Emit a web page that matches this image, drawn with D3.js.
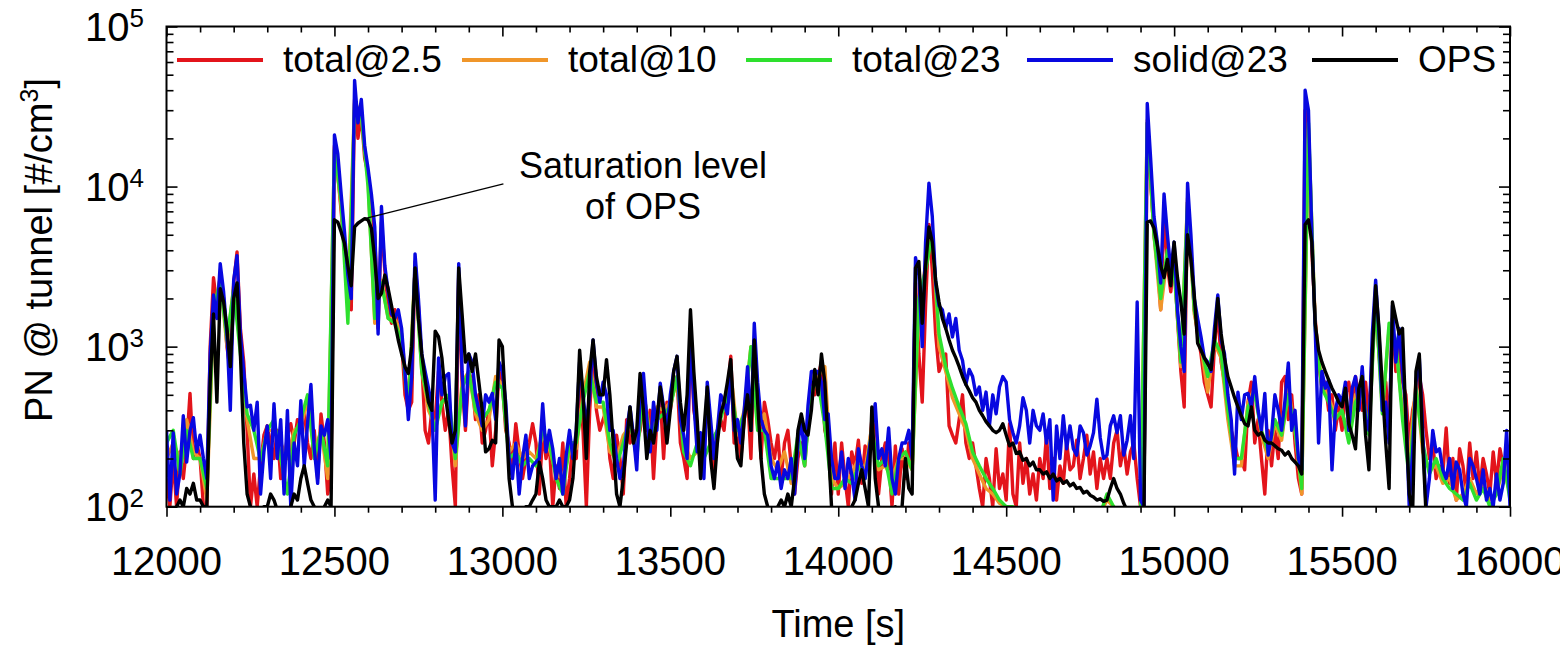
<!DOCTYPE html>
<html>
<head>
<meta charset="utf-8">
<script src="https://cdn.jsdelivr.net/npm/d3@7"></script>
<style>
  body { margin: 0; background: #fff; }
  svg text { font-family: Arial, "Liberation Sans", sans-serif; fill: #000; }
</style>
</head>
<body>
<div id="chart"></div>
<script>
// time grid: red / blue / black sampled every 10 s, orange / green every 20 s
const tStart = 12000;
const stepFine = 10;
const stepCoarse = 20;

const total25 = [
  150, 100, 200, 100, 220, 150, 240, 510, 200, 250,
  200, 100, 100, 1000, 2700, 1800, 2800, 2000, 1000, 700,
  2500, 3900, 1300, 800, 300, 100, 160, 100, 180, 280,
  320, 250, 200, 300, 150, 180, 280, 330, 250, 350,
  300, 400, 250, 200, 300, 150, 380, 250, 120, 160,
  18000, 12000, 7000, 4000, 2500, 1700, 35000, 20000, 28000, 15000,
  12000, 8000, 5000, 1300, 6000, 3000, 1800, 1400, 1700, 1300,
  1100, 500, 400, 450, 3400, 1800, 800, 300, 250, 400,
  350, 700, 450, 300, 400, 180, 100, 2800, 600, 300,
  700, 600, 350, 500, 250, 300, 400, 180, 300, 700,
  600, 300, 250, 180, 330, 220, 150, 200, 250, 330,
  250, 120, 300, 200, 250, 100, 180, 130, 250, 100,
  150, 250, 200, 700, 300, 100, 400, 900, 400, 300,
  350, 400, 200, 150, 280, 200, 120, 350, 250, 300,
  250, 300, 450, 300, 400, 150, 350, 500, 200, 450,
  400, 550, 650, 250, 200, 150, 1300, 400, 300, 180,
  250, 400, 300, 150, 280, 350, 300, 500, 870, 250,
  300, 200, 350, 500, 200, 1000, 500, 200, 450, 350,
  250, 200, 280, 150, 250, 300, 180, 120, 200, 250,
  180, 350, 600, 500, 650, 800, 300, 250, 120, 250,
  120, 250, 150, 100, 220, 180, 260, 140, 240, 190,
  350, 300, 120, 200, 250, 200, 100, 240, 120, 230,
  150, 250, 180, 2500, 900, 450, 1800, 5800, 3000, 1200,
  700, 800, 900, 320, 280, 250, 350, 500, 250, 200,
  250, 180, 130, 100, 200, 150, 100, 230, 130, 160,
  110, 330, 120, 100, 250, 140, 200, 120, 160, 110,
  200, 150, 280, 130, 200, 110, 180, 140, 250, 170,
  180, 260, 150, 200, 280, 160, 220, 130, 200, 150,
  200, 150, 250, 300, 180, 240, 160, 220, 250, 150,
  100, 100, 25000, 11000, 5000, 3500, 1700, 7000, 3200, 2200,
  3500, 1500, 700, 420, 8000, 4000, 1700, 1200, 900, 600,
  500, 420, 1000, 1700, 800, 600, 400, 300, 250, 200,
  200, 170, 450, 600, 250, 350, 200, 120, 300, 180,
  300, 200, 600, 650, 350, 500, 250, 150, 120, 30000,
  20000, 4000, 1500, 800, 550, 600, 400, 500, 300, 420,
  300, 500, 600, 400, 650, 500, 400, 600, 350, 900,
  2000, 900, 550, 600, 300, 1500, 700, 1000, 600, 500,
  250, 400, 500, 650, 500, 300, 200, 250, 150, 180,
  160, 310, 140, 200, 110, 230, 180, 120, 250, 150,
  220, 130, 200, 160, 120, 220, 140, 230, 180, 210,
  150
];

const total10 = [
  200, 250, 200, 350, 220,
  200, 110, 1500, 2700, 1000,
  2400, 1000, 350, 200, 200,
  300, 300, 250, 200, 300,
  320, 450, 220, 300, 150,
  17500, 7500, 2000, 34000, 28000,
  11000, 1400, 2600, 1500, 1500,
  1200, 420, 3200, 700, 400,
  320, 450, 450, 180, 600,
  700, 380, 300, 350, 650,
  580, 220, 250, 200, 220,
  200, 280, 230, 160, 150,
  220, 230, 500, 800, 420,
  420, 220, 200, 280, 320,
  230, 520, 280, 420, 400,
  450, 600, 250, 200, 220,
  220, 230, 300, 450, 700,
  280, 400, 1000, 320, 380,
  200, 170, 220, 140, 250,
  200, 500, 650, 750, 150,
  130, 140, 160, 200, 170,
  320, 170, 180, 150, 200,
  200, 170, 1800, 3200, 5200,
  1000, 700, 480, 380, 300,
  200, 160, 130, 120, 105,
  100, 95, 90, 90, 90,
  95, 95, 90, 90, 90,
  90, 90, 90, 90, 90,
  110, 100, 90, 90, 90,
  90, 26000, 5000, 1700, 3700,
  3200, 750, 8500, 1600, 1000,
  520, 1050, 850, 350, 180,
  180, 450, 550, 280, 200,
  330, 260, 550, 300, 120,
  23000, 1400, 580, 480, 380,
  380, 300, 500, 500, 300,
  2100, 400, 1300, 1000, 400,
  200, 600, 220, 170, 180,
  140, 150, 110, 120, 150,
  120, 140, 110, 120, 180,
  120
];

const total23 = [
  250, 300, 160, 300, 200,
  200, 130, 1700, 2600, 1100,
  2300, 900, 380, 300, 195,
  300, 350, 200, 120, 280,
  350, 500, 200, 300, 180,
  17000, 8000, 1400, 33000, 28000,
  10000, 1500, 2500, 1500, 1400,
  1100, 400, 3000, 700, 450,
  300, 450, 500, 200, 550,
  700, 400, 350, 400, 600,
  550, 200, 220, 180, 200,
  180, 300, 250, 150, 120,
  250, 250, 450, 700, 450,
  450, 250, 180, 250, 350,
  200, 550, 250, 350, 380,
  420, 650, 220, 180, 250,
  200, 250, 300, 420, 550,
  300, 380, 1000, 300, 300,
  150, 150, 150, 150, 280,
  180, 550, 600, 320, 130,
  130, 150, 140, 180, 150,
  300, 180, 200, 120, 200,
  220, 170, 2000, 3000, 5000,
  1200, 750, 550, 420, 330,
  220, 180, 150, 130, 110,
  100, 100, 95, 90, 90,
  95, 90, 90, 90, 90,
  90, 90, 90, 90, 90,
  120, 100, 90, 90, 90,
  90, 25000, 5000, 2000, 4000,
  3000, 800, 8000, 1700, 1000,
  650, 1100, 900, 400, 200,
  200, 420, 500, 300, 220,
  350, 280, 500, 300, 130,
  25000, 1300, 550, 450, 350,
  400, 250, 450, 550, 280,
  2000, 380, 1400, 1100, 350,
  150, 550, 250, 160, 200,
  150, 130, 120, 110, 140,
  110, 130, 100, 120, 200,
  110
];

const solid23 = [
  300, 110, 290, 120, 160, 370, 190, 300, 360, 220,
  280, 200, 150, 900, 2100, 1500, 3300, 2200, 1200, 400,
  2600, 3700, 1200, 700, 420, 430, 300, 450, 120, 220,
  320, 150, 440, 200, 350, 120, 400, 100, 250, 180,
  460, 180, 330, 580, 230, 140, 320, 280, 350, 200,
  21000, 16000, 9000, 5200, 2800, 2000, 46000, 25000, 35000, 18000,
  13000, 9000, 5600, 1200, 7500, 3200, 2200, 1600, 1500, 1700,
  1300, 700, 350, 650, 3800, 2000, 900, 700, 550, 420,
  110, 850, 500, 650, 680, 250, 220, 3300, 700, 320,
  900, 800, 500, 400, 320, 500, 450, 510, 350, 800,
  700, 450, 200, 150, 250, 120, 200, 280, 150, 180,
  190, 200, 440, 220, 300, 230, 150, 200, 120, 210,
  300, 200, 300, 800, 500, 320, 500, 1100, 600, 450,
  600, 500, 300, 300, 200, 150, 180, 300, 420, 280,
  170, 500, 680, 350, 220, 450, 300, 590, 420, 300,
  500, 700, 870, 350, 280, 200, 1200, 450, 220, 290,
  150, 600, 350, 200, 300, 500, 450, 380, 700, 300,
  350, 250, 400, 750, 300, 1400, 600, 350, 300, 280,
  180, 150, 190, 130, 170, 150, 200, 120, 250, 350,
  200, 430, 700, 700, 700, 600, 350, 380, 200, 150,
  150, 220, 130, 200, 160, 110, 230, 180, 150, 210,
  300, 440, 200, 230, 180, 310, 150, 120, 200, 250,
  250, 300, 200, 3600, 2800, 1000, 4500, 10500, 6500, 2500,
  1800, 1700, 1300, 1600, 1150, 1500, 950, 820, 580, 720,
  650, 500, 560, 400, 520, 320, 500, 380, 560, 650,
  600, 350, 290, 250, 320, 480, 400, 250, 400, 320,
  300, 380, 250, 350, 110, 320, 200, 370, 230, 320,
  230, 210, 320, 290, 210, 240, 290, 470, 270, 200,
  210, 320, 370, 290, 370, 210, 260, 370, 200, 1900,
  110, 100, 33000, 15000, 6500, 4500, 2500, 9000, 5000, 3000,
  4500, 1700, 1000, 700, 10500, 5000, 2000, 1500, 1150, 850,
  800, 700, 1300, 2100, 1100, 900, 500, 350, 160, 520,
  350, 500, 510, 420, 650, 400, 300, 510, 210, 280,
  500, 400, 300, 460, 790, 300, 400, 200, 170, 40000,
  30000, 5000, 1300, 250, 700, 550, 620, 170, 400, 500,
  450, 600, 300, 550, 650, 400, 750, 350, 300, 1200,
  2600, 1200, 400, 450, 250, 1800, 800, 1300, 700, 400,
  100, 220, 600, 850, 300, 100, 150, 300, 220, 230,
  170, 150, 200, 130, 190, 170, 120, 100, 200, 180,
  150, 120, 170, 110, 130, 100, 160, 110, 140, 300,
  100
];

const ops = [
  80, 80, 90, 100, 110, 100, 130, 120, 140, 110,
  110, 100, 100, 600, 1600, 450, 2300, 1900, 1300, 750,
  2000, 2500, 900, 250, 120, 100, 90, 90, 90, 100,
  100, 120, 110, 95, 90, 90, 90, 100, 120, 110,
  150, 180, 140, 110, 100, 90, 90, 100, 110, 100,
  6200, 6000, 5200, 4400, 3200, 2400, 5600, 5900, 6100, 6300,
  6200, 5500, 3500, 2000, 2150, 2800, 2300, 1800, 1400, 1100,
  900, 750, 680, 1000, 3100, 1500, 900, 620, 450, 400,
  1250, 1150, 850, 500, 350, 250, 300, 3100, 1600, 800,
  900, 700, 900, 600, 400, 220, 230, 260, 250, 1100,
  1000, 400, 150, 100, 90, 90, 90, 100, 100, 110,
  120, 190, 150, 110, 100, 100, 100, 110, 100, 100,
  110, 150, 300, 950, 500, 200, 700, 1100, 650, 500,
  500, 830, 500, 250, 120, 100, 150, 250, 420, 250,
  300, 680, 400, 200, 300, 250, 350, 560, 400, 250,
  400, 700, 870, 450, 300, 500, 1700, 700, 350, 150,
  300, 560, 200, 130, 250, 380, 450, 600, 830, 350,
  200, 180, 350, 500, 300, 1100, 450, 200, 120, 100,
  90, 90, 100, 110, 100, 120, 100, 150, 300, 380,
  300, 280, 400, 720, 500, 900, 600, 250, 100, 90,
  90, 90, 90, 90, 100, 110, 140, 170, 130, 100,
  420, 150, 100, 90, 90, 90, 90, 100, 90, 100,
  200, 130, 120, 3100, 3400, 1400, 3200, 5600, 4500, 2600,
  1900, 1500, 1300, 1100, 950, 850, 750, 650, 580, 530,
  480, 450, 400, 370, 340, 320, 300, 290, 300, 330,
  280, 240, 250, 215, 220, 195, 200, 180, 190, 170,
  170, 160, 165, 150, 160, 145, 150, 140, 145, 135,
  140, 130, 132, 122, 125, 118, 115, 110, 112, 108,
  110, 130, 150, 130, 120, 105, 95, 90, 85, 85,
  85, 90, 6000, 6100, 5500, 4300, 3200, 2700, 3500, 2400,
  4500, 2700, 1900, 1200, 5000, 3500, 2100, 1050, 950, 850,
  780, 720, 1100, 2000, 1200, 850, 650, 560, 480, 420,
  370, 330, 320, 420, 300, 280, 290, 260, 250, 250,
  240, 230, 225, 210, 220, 200, 190, 180, 160, 5800,
  6200, 4500, 1400, 950, 800, 700, 620, 550, 500, 450,
  420, 550, 330, 280, 230, 550, 650, 280, 170, 900,
  2400, 1300, 550, 250, 130, 1900, 1500, 1200, 1300, 350,
  120, 90, 700, 900, 250, 90, 80, 80, 80, 80,
  80, 80, 80, 80, 80, 80, 80, 80, 80, 80,
  80, 80, 80, 80, 80, 80, 80, 80, 80, 80,
  80
];

const seriesNames = ["total@2.5", "total@10", "total@23", "solid@23", "OPS"];
const seriesColors = ["#e3141b", "#f0962a", "#2ee02e", "#0808e0", "#000000"];
const xTickValues = [12000, 12500, 13000, 13500, 14000, 14500, 15000, 15500, 16000];
const yTickExponents = [2, 3, 4, 5];

const series = [
  { name: seriesNames[0], values: total25, step: stepFine, color: seriesColors[0] },
  { name: seriesNames[1], values: total10, step: stepCoarse, color: seriesColors[1] },
  { name: seriesNames[2], values: total23, step: stepCoarse, color: seriesColors[2] },
  { name: seriesNames[3], values: solid23, step: stepFine, color: seriesColors[3] },
  { name: seriesNames[4], values: ops, step: stepFine, color: seriesColors[4] }
];

const W = 1560, H = 653;
const plot = { left: 166.5, right: 1510, top: 26.5, bottom: 506.7 };

const svg = d3.select("#chart").append("svg")
  .attr("width", W)
  .attr("height", H);

const x = d3.scaleLinear().domain([12000, 16000]).range([plot.left, plot.right]);
const y = d3.scaleLog().domain([100, 100000]).range([plot.bottom, plot.top]);

svg.append("clipPath").attr("id", "plotClip")
  .append("rect")
  .attr("x", plot.left)
  .attr("y", plot.top)
  .attr("width", plot.right - plot.left)
  .attr("height", plot.bottom - plot.top);

const lines = svg.append("g").attr("clip-path", "url(#plotClip)");

series.forEach(s => {
  const line = d3.line()
    .x((d, i) => x(tStart + i * s.step))
    .y(d => y(Math.max(d, 50)));
  lines.append("path")
    .datum(s.values)
    .attr("d", line)
    .attr("fill", "none")
    .attr("stroke", s.color)
    .attr("stroke-width", 3.4)
    .attr("stroke-linejoin", "round");
});

// frame
svg.append("rect")
  .attr("x", plot.left)
  .attr("y", plot.top)
  .attr("width", plot.right - plot.left)
  .attr("height", plot.bottom - plot.top)
  .attr("fill", "none")
  .attr("stroke", "#000")
  .attr("stroke-width", 2);

// x ticks: minor every 100 s, major every 500 s
const xMinor = d3.range(12000, 16001, 100);
const xAxisBottom = svg.append("g")
  .attr("transform", `translate(0,${plot.bottom})`)
  .call(d3.axisBottom(x).tickValues(xMinor).tickSize(6).tickFormat(""));
const xAxisTop = svg.append("g")
  .attr("transform", `translate(0,${plot.top})`)
  .call(d3.axisBottom(x).tickValues(xMinor).tickSize(6).tickFormat(""));
[xAxisBottom, xAxisTop].forEach(g => {
  g.select(".domain").remove();
  g.selectAll(".tick line")
    .attr("stroke-width", 1.6)
    .attr("y2", d => (xTickValues.includes(d) ? 10 : 6));
});

svg.append("g").selectAll("text")
  .data(xTickValues)
  .join("text")
  .attr("x", d => x(d))
  .attr("y", 575)
  .attr("text-anchor", "middle")
  .style("font-size", "40px")
  .text(d => d);

// y ticks: log minors, inward on both sides
const yMinor = [];
[100, 1000, 10000].forEach(dec => {
  for (let k = 1; k < 10; k++) yMinor.push(dec * k);
});
yMinor.push(100000);
const isMajor = d => Math.abs(Math.log10(d) - Math.round(Math.log10(d))) < 1e-9;

const yAxisLeft = svg.append("g")
  .attr("transform", `translate(${plot.left},0)`)
  .call(d3.axisRight(y).tickValues(yMinor).tickSize(6).tickFormat(""));
const yAxisRight = svg.append("g")
  .attr("transform", `translate(${plot.right},0)`)
  .call(d3.axisLeft(y).tickValues(yMinor).tickSize(6).tickFormat(""));
yAxisLeft.selectAll(".tick line").attr("x2", d => (isMajor(d) ? 11 : 7));
yAxisRight.selectAll(".tick line").attr("x2", d => (isMajor(d) ? -11 : -7));
[yAxisLeft, yAxisRight].forEach(g => {
  g.select(".domain").remove();
  g.selectAll(".tick line").attr("stroke-width", 1.6);
});

const yLabels = svg.append("g").selectAll("text")
  .data(yTickExponents)
  .join("text")
  .attr("x", 144)
  .attr("y", d => y(Math.pow(10, d)) + 14.5)
  .attr("text-anchor", "end")
  .style("font-size", "40px");
yLabels.append("tspan").text("10");
yLabels.append("tspan")
  .attr("dy", -14.5)
  .style("font-size", "26px")
  .text(d => d);

// axis titles
svg.append("text")
  .attr("transform", "translate(52,250) rotate(-90)")
  .attr("text-anchor", "middle")
  .style("font-size", "38px")
  .call(t => {
    t.append("tspan").text("PN @ tunnel [#/cm");
    t.append("tspan").attr("dy", -14).style("font-size", "25px").text("3");
    t.append("tspan").attr("dy", 14).text("]");
  });

svg.append("text")
  .attr("x", (plot.left + plot.right) / 2)
  .attr("y", 637)
  .attr("text-anchor", "middle")
  .style("font-size", "38px")
  .text("Time [s]");

// legend (one row inside the frame)
const legendX = [177, 462, 746, 1027, 1312];
const legend = svg.append("g");
series.forEach((s, i) => {
  legend.append("line")
    .attr("x1", legendX[i]).attr("x2", legendX[i] + 86)
    .attr("y1", 60).attr("y2", 60)
    .attr("stroke", s.color)
    .attr("stroke-width", 4);
  legend.append("text")
    .attr("x", legendX[i] + 106)
    .attr("y", 72)
    .style("font-size", "37px")
    .text(s.name);
});

// annotation
const noteFrom = [12590, 6300];
const noteTo = [13003, 10400];
svg.append("line")
  .attr("x1", x(noteFrom[0])).attr("y1", y(noteFrom[1]))
  .attr("x2", x(noteTo[0])).attr("y2", y(noteTo[1]))
  .attr("stroke", "#000")
  .attr("stroke-width", 1.3);
svg.append("text")
  .attr("x", 643).attr("y", 178)
  .attr("text-anchor", "middle")
  .style("font-size", "36px")
  .text("Saturation level");
svg.append("text")
  .attr("x", 643).attr("y", 219)
  .attr("text-anchor", "middle")
  .style("font-size", "36px")
  .text("of OPS");
</script>
</body>
</html>
